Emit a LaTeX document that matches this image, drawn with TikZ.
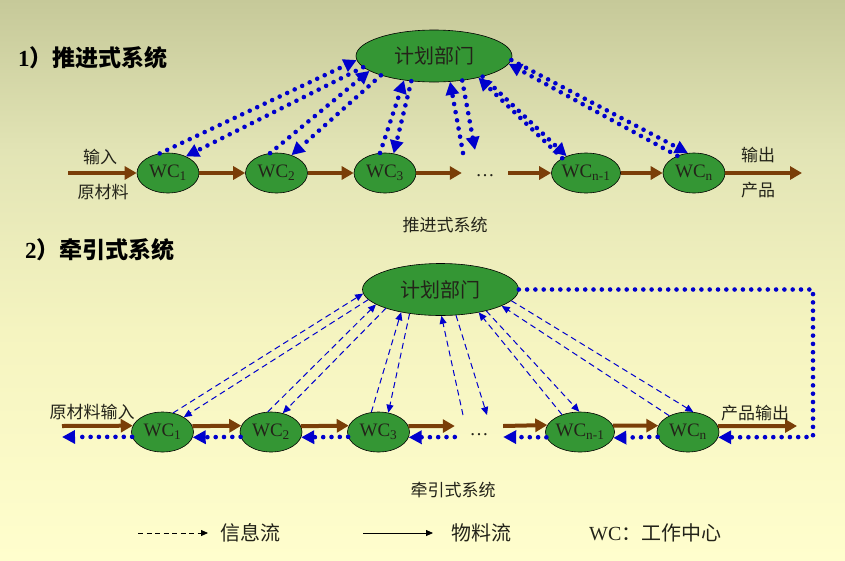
\documentclass[tikz,border=0pt]{standalone}
\usepackage{fontspec}
\setmainfont{Liberation Serif}
\newfontfamily\cjk{Noto Sans CJK SC}
\usetikzlibrary{arrows.meta,shapes.geometric,calc}
\definecolor{wcgreen}{RGB}{52,150,52}
\definecolor{brownarr}{RGB}{122,62,8}
\definecolor{bluearr}{RGB}{0,0,205}
\definecolor{txt}{RGB}{35,35,25}
\definecolor{bgA}{RGB}{198,201,153}
\definecolor{bgB}{RGB}{226,228,181}
\definecolor{bgC}{RGB}{245,244,192}
\definecolor{bgD}{RGB}{255,254,205}
\newcommand{\wcl}[1]{WC\textsubscript{#1}}
\begin{document}
\begin{tikzpicture}[x=1pt,y=-1pt,
  wc/.style={ellipse, draw=black, line width=0.6pt, fill=wcgreen, minimum width=62pt, minimum height=40pt,
    inner sep=0pt, text height=13pt, text depth=4pt, font=\fontsize{19}{19}\selectfont, text=txt},
  plan/.style={ellipse, draw=black, line width=0.6pt, fill=wcgreen, minimum width=156pt, minimum height=52pt,
    inner sep=0pt, font=\cjk\fontsize{20}{20}\selectfont, text=txt},
  dotsn/.style={minimum width=46pt, inner sep=0pt, text height=12pt, text depth=5pt, font=\fontsize{19}{19}\selectfont, text=txt},
  lab/.style={font=\cjk\fontsize{17}{17}\selectfont, text=txt, inner sep=0pt},
  captxt/.style={font=\cjk\fontsize{17}{17}\selectfont, text=txt, inner sep=0pt},
  ttl/.style={font=\fontsize{23}{23}\selectfont\bfseries, text=black, inner sep=0pt, anchor=west},
  leg/.style={font=\fontsize{20}{20}\selectfont, text=txt, inner sep=0pt},
  mat/.style={draw=brownarr, line width=4pt, -{Triangle[length=12pt,width=13pt]}},
  dotarr/.style={draw=bluearr, line width=4.6pt, line cap=round, dash pattern=on 0pt off 8.3pt,
    -{Triangle[length=13pt,width=13pt]}},
  dasharr/.style={draw=bluearr, line width=1pt, dash pattern=on 6pt off 4pt, -{Triangle[length=8pt,width=7pt]}},
  legdash/.style={draw=black, line width=0.8pt, dash pattern=on 5pt off 3.5pt, -{Triangle[length=7pt,width=6pt]}},
  legsolid/.style={draw=black, line width=0.8pt, -{Triangle[length=7pt,width=6pt]}}
]
\useasboundingbox (0,0) rectangle (845,560);
% background
\fill[top color=bgA, bottom color=bgB] (0,0) rectangle (845,151);
\fill[top color=bgB, bottom color=bgC] (0,150) rectangle (845,331);
\fill[top color=bgC, bottom color=bgD] (0,330) rectangle (845,560);

% ---------- 1) push system ----------
\node[ttl] (t1) at (18,58) {1{\cjk）推进式系统}};
\node[plan] (p1) at (434,56) {计划部门};
\node[wc] (a1) at (168,173) {\wcl{1}};
\node[wc] (a2) at (276.5,173) {\wcl{2}};
\node[wc] (a3) at (385,173) {\wcl{3}};
\node[dotsn] (ad) at (485,173) {…};
\node[wc] (a4) at (586,173) {\wcl{n-1}};
\node[wc] (a5) at (694,173) {\wcl{n}};
\coordinate (in1) at (68,173);
\coordinate (out1) at (802,173);
\coordinate (d1a) at (463,153);
\coordinate (d1b) at (475,150);

\draw[mat] (in1) -- (a1.west);
\draw[mat] (a1.east) -- (a2.west);
\draw[mat] (a2.east) -- (a3.west);
\draw[mat] (a3.east) -- (ad.west);
\draw[mat] (ad.east) -- (a4.west);
\draw[mat] (a4.east) -- (a5.west);
\draw[mat] (a5.east) -- (out1);

\draw[dotarr] (a1.113.5) -- (p1.183.3);
\draw[dotarr] (p1.189.2) -- (a1.43.1);
\draw[dotarr] (a2.108) -- (p1.193.8);
\draw[dotarr] (p1.200.3) -- (a2.50.4);
\draw[dotarr] (a3.104.9) -- (p1.219.7);
\draw[dotarr] (p1.228.3) -- (a3.66.5);
\draw[dotarr] (d1a) -- (p1.302.9);
\draw[dotarr] (p1.319.2) -- (d1b);
\draw[dotarr] (a4.148.7) -- (p1.334);
\draw[dotarr] (p1.337.7) -- (a4.139.3);
\draw[dotarr] (a5.134.5) -- (p1.354.2);
\draw[dotarr] (p1.357.7) -- (a5.107.9);

\node[lab] (l1) at (100,157) {输入};
\node[lab] (l2) at (103,192) {原材料};
\node[lab] (l3) at (758,155) {输出};
\node[lab] (l4) at (758,190) {产品};
\node[captxt] (c1) at (445,225) {推进式系统};

% ---------- 2) pull system ----------
\node[ttl] (t2) at (25,250) {2{\cjk）牵引式系统}};
\node[plan] (p2) at (440.5,289.5) {计划部门};
\node[wc] (b1) at (162.5,432) {\wcl{1}};
\node[wc] (b2) at (271,432) {\wcl{2}};
\node[wc] (b3) at (378.5,432) {\wcl{3}};
\node[dotsn, minimum width=48pt] (bd) at (479,432) {…};
\node[wc] (b4) at (580,432) {\wcl{n-1}};
\node[wc] (b5) at (688,432) {\wcl{n}};
\coordinate (in2) at (62,426);
\coordinate (out2) at (797,426);
\coordinate (ret) at (62,437);
\coordinate (cor1) at (813,289.5);
\coordinate (cor2) at (813,437);
\coordinate (d2a) at (463,415);
\coordinate (d2b) at (487,415);

\draw[mat] (in2) -- (b1.168.5);
\draw[mat] (b1.11.5) -- (b2.168.5);
\draw[mat] (b2.11.5) -- (b3.168.5);
\draw[mat] (b3.11.5) -- ([yshift=6pt]bd.west);
\draw[mat] ([yshift=6pt]bd.east) -- (b4.168.5);
\draw[mat] (b4.11.5) -- (b5.168.5);
\draw[mat] (b5.11.5) -- (out2);

\draw[dotarr] (p2.east) -- (cor1) -- (cor2) -- (b5.350.5);
\draw[dotarr] (b5.189.5) -- (b4.350.5);
\draw[dotarr] (b4.189.5) -- ([yshift=-5pt]bd.east);
\draw[dotarr] ([yshift=-5pt]bd.west) -- (b3.350.5);
\draw[dotarr] (b3.189.5) -- (b2.350.5);
\draw[dotarr] (b2.189.5) -- (b1.350.5);
\draw[dotarr] (b1.189.5) -- (ret);

\draw[dasharr] (b1.61) -- (p2.183.3);
\draw[dasharr] (p2.188.3) -- (b1.35.9);
\draw[dasharr] (b2.99) -- (p2.193.8);
\draw[dasharr] (p2.199.6) -- (b2.58.3);
\draw[dasharr] (b3.110.7) -- (p2.210.8);
\draw[dasharr] (p2.218.5) -- (b3.63.7);
\draw[dasharr] (d2a) -- (p2.272.1);
\draw[dasharr] (p2.301.2) -- (d2b);
\draw[dasharr] (b4.136.9) -- (p2.329.1);
\draw[dasharr] (p2.335.5) -- (b4.92);
\draw[dasharr] (b5.139.3) -- (p2.345.5);
\draw[dasharr] (p2.351.7) -- (b5.75);

\node[lab] (l5) at (92,412) {原材料输入};
\node[lab] (l6) at (755,413) {产品输出};
\node[captxt] (c2) at (453,490) {牵引式系统};

% ---------- legend ----------
\coordinate (lg1) at (138,533);
\coordinate (lg2) at (208,533);
\coordinate (lg3) at (363,533);
\coordinate (lg4) at (433,533);
\draw[legdash] (lg1) -- (lg2);
\draw[legsolid] (lg3) -- (lg4);
\node[leg, font=\cjk\fontsize{20}{20}\selectfont] (lt1) at (250,533) {信息流};
\node[leg, font=\cjk\fontsize{20}{20}\selectfont] (lt2) at (481,533) {物料流};
\node[leg, anchor=west] (lt3) at (589,533) {WC{\cjk：工作中心}};
\end{tikzpicture}
\end{document}
